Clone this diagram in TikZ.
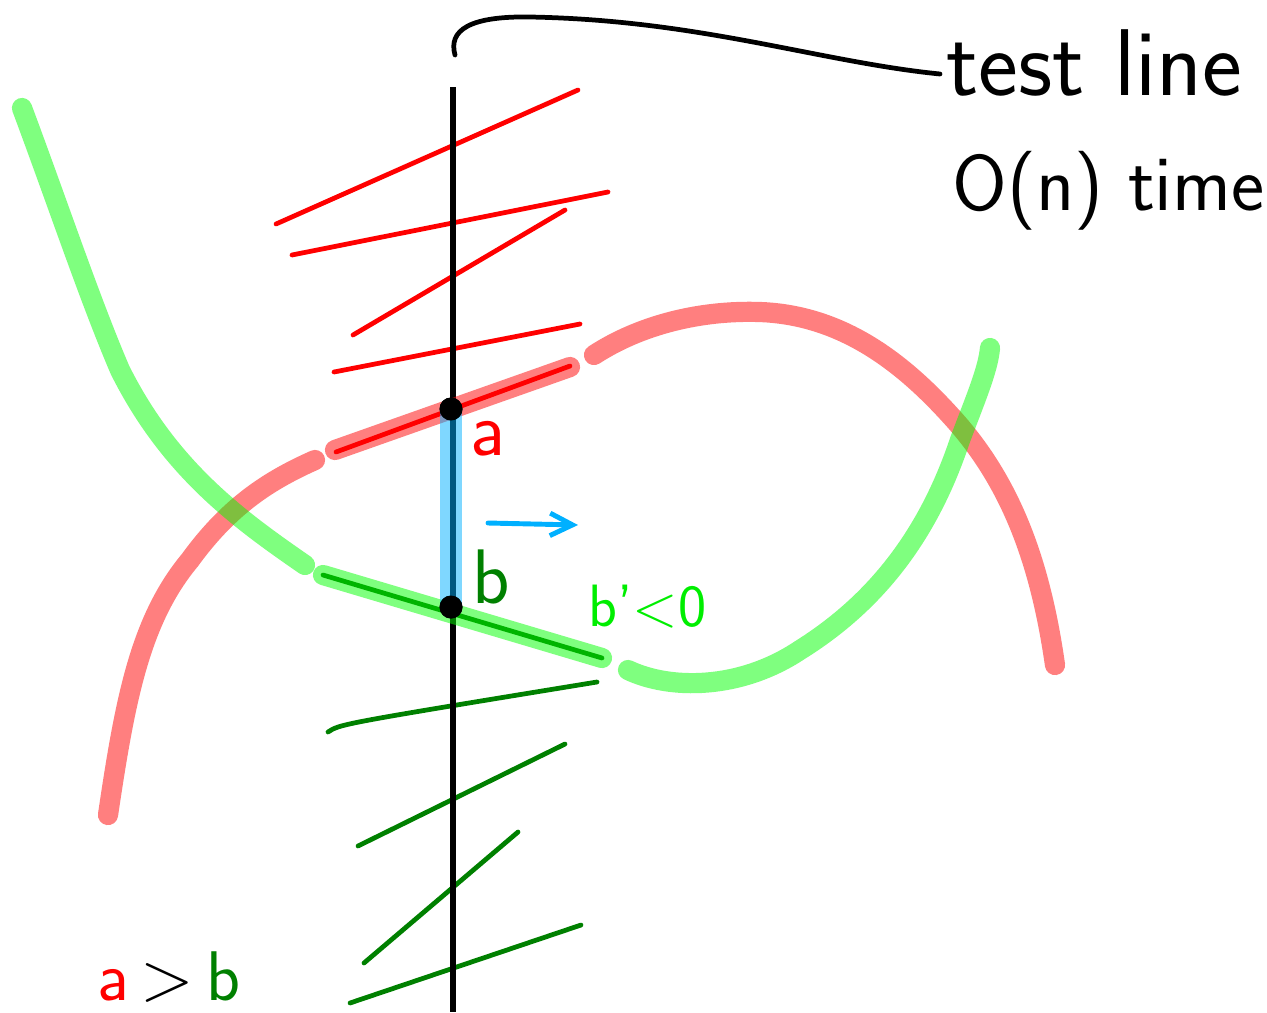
\documentclass[tikz,border=0pt]{standalone}
\usetikzlibrary{arrows.meta}
\definecolor{darkgreen}{HTML}{008000}
\definecolor{midgreen}{HTML}{00B400}
\definecolor{brightgreen}{HTML}{00EE00}
\definecolor{sky}{HTML}{00B0FF}
\begin{document}
\begin{tikzpicture}[x=0.02cm, y=-0.02cm, >=Stealth,
    pen/.style={line width=2.7pt, line cap=round, line join=round},
    marker/.style={line width=11.5pt, line cap=round, line join=round, opacity=0.5},
    dot/.style={circle, fill=black, inner sep=0pt, minimum size=0.46cm},
    lbl/.style={font=\sffamily\fontsize{44}{50}\selectfont, inner sep=0pt}]
    \useasboundingbox (0,0) rectangle (1267,1012);

    % segments below the test point
    \draw[pen, darkgreen] (328,732) .. controls (340,724) .. (597,682);
    \draw[pen, darkgreen] (358,846) -- (565,744);
    \draw[pen, darkgreen] (364,963) -- (518,832);
    \draw[pen, darkgreen] (350,1003) -- (581,925);

    % segments above the test point
    \draw[pen, red] (276,224) -- (578,90);
    \draw[pen, red] (292,255) -- (608,192);
    \draw[pen, red] (353,335) -- (565,210);
    \draw[pen, red] (334,372) -- (580,324);

    % the test line
    \coordinate (top) at (453,87);
    \coordinate (bottom) at (453,1012);
    \draw[line width=3.2pt] (top) -- (bottom);

    % labels
    \node[lbl, anchor=base west, font=\sffamily\fontsize{54}{60}\selectfont] (testlbl) at (946,95) {test line};
    \node[lbl, anchor=base west, font=\sffamily\fontsize{45}{54}\selectfont] (timelbl) at (952,210) {O(n) time};
    \coordinate (leadstart) at (455,55);
    \coordinate (leadend) at (940,74);
    \draw[pen] (leadstart) .. controls (448,30) and (470,16) .. (530,17)
        .. controls (700,20) and (820,62) .. (leadend);

    % red curve
    \draw[marker, red] (108,815) .. controls (125,700) and (140,620) .. (190,560)
        .. controls (230,505) and (270,480) .. (315,460);
    \draw[marker, red] (335,450) -- (570,367);
    \draw[marker, red] (594,355) .. controls (640,325) and (700,310) .. (760,312)
        .. controls (840,315) and (900,360) .. (950,415)
        .. controls (1010,480) and (1040,560) .. (1055,665);

    % green curve
    \draw[marker, green] (22,108) .. controls (60,210) and (90,300) .. (120,370)
        .. controls (170,470) and (240,520) .. (305,565);
    \draw[marker, green] (323,575) -- (602,658);
    \draw[marker, green] (628,670) .. controls (670,690) and (740,690) .. (800,650)
        .. controls (880,600) and (930,530) .. (960,440)
        .. controls (975,400) and (988,370) .. (990,348);

    % tangent pieces
    \draw[pen, red] (336,452) -- (570,366);
    \draw[pen, midgreen] (323,575) -- (602,658);

    % the two points
    \node[dot] (a) at (451,409) {};
    \node[dot] (b) at (451,607) {};
    \draw[line width=12.5pt, sky, opacity=0.5] (a.center) -- (b.center);
    \node[dot] at (a) {};
    \node[dot] at (b) {};

    \coordinate (arrfrom) at (488,523);
    \coordinate (arrto) at (578,525);
    \draw[sky, line width=2.8pt, line cap=round, -{Straight Barb[length=4.5mm, width=4.5mm]}] (arrfrom) -- (arrto);

    \node[lbl, text=red, anchor=base west] (alabel) at (470,455) {a};
    \node[lbl, text=darkgreen, anchor=base west] (blabel) at (472,603) {b};
    \node[lbl, text=brightgreen, anchor=base west, font=\sffamily\fontsize{34}{40}\selectfont] (slopelbl) at (588,626) {b'<0};
    \node[lbl, anchor=base west, font=\sffamily\fontsize{40}{48}\selectfont] (cmplbl) at (97,1000)
        {\textcolor{red}{a}\,>\,\textcolor{darkgreen}{b}};
\end{tikzpicture}
\end{document}
